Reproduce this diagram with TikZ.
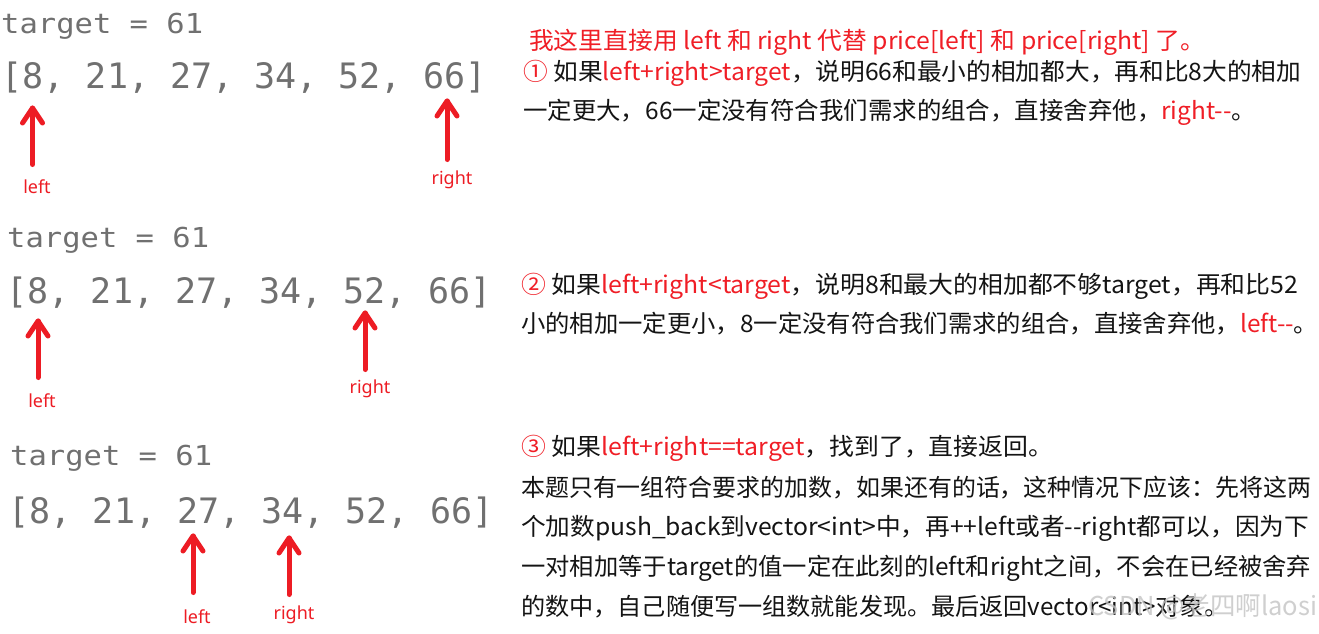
\documentclass[tikz,border=0pt]{standalone}
\usepackage{fontspec}
\usepackage{graphicx}
\setmainfont{Noto Sans}
\newfontfamily\cjkfont{Noto Sans CJK SC}
\newfontfamily\monofont{DejaVu Sans Mono}
\newfontfamily\labfont{Noto Sans}
\usetikzlibrary{calc}
\definecolor{codegray}{RGB}{112,112,112}
\definecolor{arrred}{RGB}{237,28,36}
\definecolor{txtred}{RGB}{240,30,38}
\definecolor{txtblk}{RGB}{20,20,20}
\definecolor{wmgray}{RGB}{196,196,196}
\newcommand\rd[1]{\textcolor{txtred}{#1}}
\newcommand\fitw[2]{\resizebox{#1pt}{\height}{#2}}
\newcommand\redarrow[2]{%
  \draw[arr] (#1) -- (#2);
  \draw[arr] ($(#2)+(-10,15)$) -- (#2) -- ($(#2)+(10,15)$);}
\begin{document}
\begin{tikzpicture}[x=1pt,y=-1pt,
  tgt/.style={anchor=base west, inner sep=0, text=codegray,
    font=\monofont\fontsize{30.5}{31}\selectfont},
  arrline/.style={anchor=base west, inner sep=0, text=codegray,
    font=\monofont\fontsize{35}{36}\selectfont},
  lbl/.style={anchor=base, inner sep=0, text=arrred,
    font=\labfont\fontsize{18}{18}\selectfont},
  rt/.style={anchor=base west, inner sep=0, text=txtblk,
    font=\cjkfont\fontsize{24}{24}\selectfont},
  wm/.style={anchor=base west, inner sep=0, text=wmgray, opacity=0.8,
    font=\cjkfont\fontsize{26}{26}\selectfont},
  arr/.style={draw=arrred, line width=5pt, line cap=round, line join=round}]
\fill[white] (0,0) rectangle (1319,633);
\useasboundingbox (0,0) rectangle (1319,633);

% ---------- row 1 ----------
\node[tgt] (t1) at (1,33) {\scalebox{1}[0.9]{target = 61}};
\node[arrline] (a1) at (1.5,88) {[8, 21, 27, 34, 52, 66]};
\coordinate (l1tail) at (32.5,164.5);
\coordinate (l1tip) at (32.5,108);
\coordinate (r1tail) at (447,159.5);
\coordinate (r1tip) at (447,101);
\redarrow{l1tail}{l1tip}
\redarrow{r1tail}{r1tip}
\node[lbl] (lab1l) at (37,193) {left};
\node[lbl] (lab1r) at (452,184) {right};

% ---------- row 2 ----------
\node[tgt] (t2) at (7,247) {\scalebox{1}[0.9]{target = 61}};
\node[arrline] (a2) at (6.5,303) {[8, 21, 27, 34, 52, 66]};
\coordinate (l2tail) at (38,377.5);
\coordinate (l2tip) at (38,321);
\coordinate (r2tail) at (365,369.5);
\coordinate (r2tip) at (365,313);
\redarrow{l2tail}{l2tip}
\redarrow{r2tail}{r2tip}
\node[lbl] (lab2l) at (42,407) {left};
\node[lbl] (lab2r) at (370,393) {right};

% ---------- row 3 ----------
\node[tgt] (t3) at (10,465) {\scalebox{1}[0.9]{target = 61}};
\node[arrline] (a3) at (8.5,523) {[8, 21, 27, 34, 52, 66]};
\coordinate (l3tail) at (193,592.5);
\coordinate (l3tip) at (193,536);
\coordinate (r3tail) at (289,594.5);
\coordinate (r3tip) at (289,538);
\redarrow{l3tail}{l3tip}
\redarrow{r3tail}{r3tip}
\node[lbl] (lab3l) at (197,623) {left};
\node[lbl] (lab3r) at (294,619) {right};

% ---------- right-hand text ----------
\node[rt] (p1) at (529,49) {\fitw{676}{\rd{我这里直接用 left 和 right 代替 price[left] 和 price[right] 了。}}};
\node[rt] (p2) at (523,80) {\fitw{778}{\rd{①} 如果\rd{left+right>target}，说明66和最小的相加都大，再和比8大的相加}};
\node[rt] (p3) at (523,119) {\fitw{733}{一定更大，66一定没有符合我们需求的组合，直接舍弃他，\rd{right-{}-}。}};
\node[rt] (p4) at (521,293) {\fitw{777}{\rd{②} 如果\rd{left+right<target}，说明8和最大的相加都不够target，再和比52}};
\node[rt] (p5) at (521,332) {\fitw{797}{小的相加一定更小，8一定没有符合我们需求的组合，直接舍弃他，\rd{left-{}-}。}};
\node[rt] (p6) at (521,455) {\fitw{532}{\rd{③} 如果\rd{left+right==target}，找到了，直接返回。}};
\node[rt] (p7) at (521,496) {\fitw{790}{本题只有一组符合要求的加数，如果还有的话，这种情况下应该：先将这两}};
\node[rt] (p8) at (521,535) {\fitw{788}{个加数push\_back到vector<int>中，再++left或者-{}-right都可以，因为下}};
\node[rt] (p9) at (521,575) {\fitw{790}{一对相加等于target的值一定在此刻的left和right之间，不会在已经被舍弃}};
\node[rt] (p10) at (521,615) {\fitw{707}{的数中，自己随便写一组数就能发现。最后返回vector<int>对象。}};

% ---------- watermark ----------
\node[wm] (wmk) at (1088,615) {\fitw{229}{CSDN @老四啊laosi}};
\end{tikzpicture}
\end{document}
